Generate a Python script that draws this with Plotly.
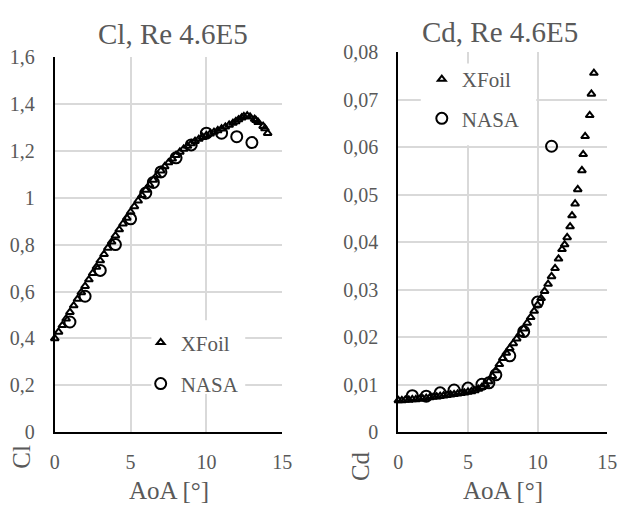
import plotly.graph_objects as go

# ---------------- data ----------------
xfoil_aoa = [0, 0.25, 0.5, 0.75, 1.0, 1.25, 1.5, 1.75, 2.0, 2.25, 2.5, 2.75, 3.0, 3.25, 3.5, 3.75,
             4.0, 4.25, 4.5, 4.75, 5.0, 5.25, 5.5, 5.75, 6.0, 6.25, 6.5, 6.75, 7.0, 7.25, 7.5, 7.75,
             8.0, 8.25, 8.5, 8.75, 9.0, 9.25, 9.5, 9.75, 10.0, 10.25, 10.5, 10.75, 11.0, 11.25, 11.5,
             11.75, 11.94, 12.12, 12.33, 12.47, 12.69, 12.88, 13.18, 13.27, 13.41, 13.74, 13.86, 14.04]
xfoil_cl = [0.400, 0.428, 0.456, 0.484, 0.512, 0.540, 0.568, 0.596, 0.623, 0.651, 0.678, 0.705,
            0.732, 0.759, 0.786, 0.812, 0.838, 0.864, 0.889, 0.914, 0.939, 0.963, 0.987, 1.010,
            1.033, 1.055, 1.076, 1.096, 1.115, 1.133, 1.150, 1.166, 1.181, 1.195, 1.208, 1.220,
            1.231, 1.241, 1.250, 1.258, 1.266, 1.273, 1.280, 1.287, 1.294, 1.302, 1.310, 1.318,
            1.325, 1.333, 1.341, 1.347, 1.350, 1.345, 1.335, 1.330, 1.322, 1.305, 1.295, 1.275]
xfoil_cd = [0.0067, 0.0067, 0.0068, 0.0068, 0.0069, 0.0069, 0.0070, 0.0071, 0.0072, 0.0073,
            0.0074, 0.0075, 0.0076, 0.0077, 0.0078, 0.0079, 0.0080, 0.0081, 0.0082, 0.0083,
            0.0085, 0.0086, 0.0088, 0.0091, 0.0095, 0.0100, 0.0107, 0.0118, 0.0130, 0.0143,
            0.0156, 0.0167, 0.0177, 0.0187, 0.0197, 0.0207, 0.0218, 0.0230, 0.0242, 0.0255,
            0.0268, 0.0282, 0.0297, 0.0312, 0.0328, 0.0345, 0.0365, 0.0385, 0.0395, 0.0410,
            0.0433, 0.0456, 0.0481, 0.0511, 0.0551, 0.0585, 0.0623, 0.0667, 0.0712, 0.0756]

nasa_aoa_cl = [1, 2, 3, 4, 5, 6, 6.5, 7, 8, 9, 10, 11, 12, 13]
nasa_cl = [0.47, 0.58, 0.69, 0.80, 0.91, 1.02, 1.065, 1.11, 1.17, 1.225, 1.275, 1.275, 1.26, 1.235]
nasa_aoa_cd = [1, 2, 3, 4, 5, 6, 6.5, 7, 8, 9, 10, 11]
nasa_cd = [0.0077, 0.0076, 0.0083, 0.0089, 0.0093, 0.0101, 0.0104, 0.0121, 0.0161, 0.0212, 0.0274, 0.0602]

titles = ["Cl, Re 4.6E5", "Cd, Re 4.6E5"]
ytitles = ["Cl", "Cd"]
xtitle = "AoA [°]"

# ---------------- style ----------------
FONT = "'Liberation Serif', 'Times New Roman', Times, serif"
GRAY = "#595959"
GRID = "#d9d9d9"
W, H = 628, 517

def px(x):
    return x / W

def py(y):
    return (H - y) / H

tri = dict(symbol="triangle-up-open", size=7, color="black", line=dict(color="black", width=2))
circ = dict(symbol="circle-open", size=11, color="black", line=dict(color="black", width=2))

fig = go.Figure()
fig.add_trace(go.Scatter(x=xfoil_aoa, y=xfoil_cl, mode="markers", name="XFoil", marker=tri,
                         xaxis="x", yaxis="y", cliponaxis=False, legend="legend",
                         legendgroup="a"))
fig.add_trace(go.Scatter(x=nasa_aoa_cl, y=nasa_cl, mode="markers", name="NASA", marker=circ,
                         xaxis="x", yaxis="y", cliponaxis=False, legend="legend",
                         legendgroup="b"))
fig.add_trace(go.Scatter(x=xfoil_aoa, y=xfoil_cd, mode="markers", name="XFoil", marker=tri,
                         xaxis="x2", yaxis="y2", cliponaxis=False, legend="legend2",
                         legendgroup="c"))
fig.add_trace(go.Scatter(x=nasa_aoa_cd, y=nasa_cd, mode="markers", name="NASA", marker=circ,
                         xaxis="x2", yaxis="y2", cliponaxis=False, legend="legend2",
                         legendgroup="d"))

axis_common = dict(showgrid=True, gridcolor=GRID, gridwidth=1.5, zeroline=False,
                   showline=True, linecolor="black", linewidth=2, ticks="",
                   tickfont=dict(family=FONT, size=20, color=GRAY))

fig.update_layout(
    width=W, height=H,
    margin=dict(l=0, r=0, t=0, b=0),
    paper_bgcolor="white", plot_bgcolor="white",
    separators=", ",
    font=dict(family=FONT, color=GRAY),
    xaxis=dict(domain=[px(51), px(284)], range=[0, 15], dtick=5, tick0=0, anchor="y",
               ticklabelstandoff=11, **axis_common),
    yaxis=dict(domain=[py(440), py(48)], range=[0, 1.6], dtick=0.2, tick0=0, anchor="x",
               ticklabelstandoff=14, **axis_common),
    xaxis2=dict(domain=[px(403), px(617)], range=[0, 15], dtick=5, tick0=0, anchor="y2",
                ticklabelstandoff=11, **axis_common),
    yaxis2=dict(domain=[py(440), py(43)], range=[0, 0.08], dtick=0.01, tick0=0, anchor="x2",
                ticklabelstandoff=14, **axis_common),
    legend=dict(x=px(139), y=py(325), xanchor="left", yanchor="top",
                bgcolor="rgba(0,0,0,0)", font=dict(family=FONT, size=21, color=GRAY),
                tracegroupgap=11, itemwidth=30),
    legend2=dict(x=px(427), y=py(50), xanchor="left", yanchor="top",
                 bgcolor="rgba(0,0,0,0)", font=dict(family=FONT, size=21, color=GRAY),
                 tracegroupgap=9, itemwidth=30),
    shapes=[
        dict(type="rect", xref="x", yref="y", x0=6.37, x1=12.56, y0=0.163, y1=0.478,
             fillcolor="white", line=dict(width=0), layer="between"),
        dict(type="rect", xref="x2", yref="y2", x0=1.61, x1=9.9, y0=0.0604, y1=0.0776,
             fillcolor="white", line=dict(width=0), layer="between"),
    ],
    annotations=[
        dict(text=titles[0], x=px(172), y=py(24), xref="paper", yref="paper",
             xanchor="center", yanchor="middle", showarrow=False,
             font=dict(family=FONT, size=29, color=GRAY)),
        dict(text=titles[1], x=px(507), y=py(22), xref="paper", yref="paper",
             xanchor="center", yanchor="middle", showarrow=False,
             font=dict(family=FONT, size=29, color=GRAY)),
        dict(text=xtitle, x=px(168), y=py(501), xref="paper", yref="paper",
             xanchor="center", yanchor="middle", showarrow=False,
             font=dict(family=FONT, size=25, color=GRAY)),
        dict(text=xtitle, x=px(510), y=py(501), xref="paper", yref="paper",
             xanchor="center", yanchor="middle", showarrow=False,
             font=dict(family=FONT, size=25, color=GRAY)),
        dict(text=ytitles[0], x=px(17), y=py(466), xref="paper", yref="paper",
             xanchor="center", yanchor="middle", showarrow=False, textangle=-90,
             font=dict(family=FONT, size=25, color=GRAY)),
        dict(text=ytitles[1], x=px(365), y=py(475), xref="paper", yref="paper",
             xanchor="center", yanchor="middle", showarrow=False, textangle=-90,
             font=dict(family=FONT, size=25, color=GRAY)),
    ],
)

fig.write_html("out.html")
